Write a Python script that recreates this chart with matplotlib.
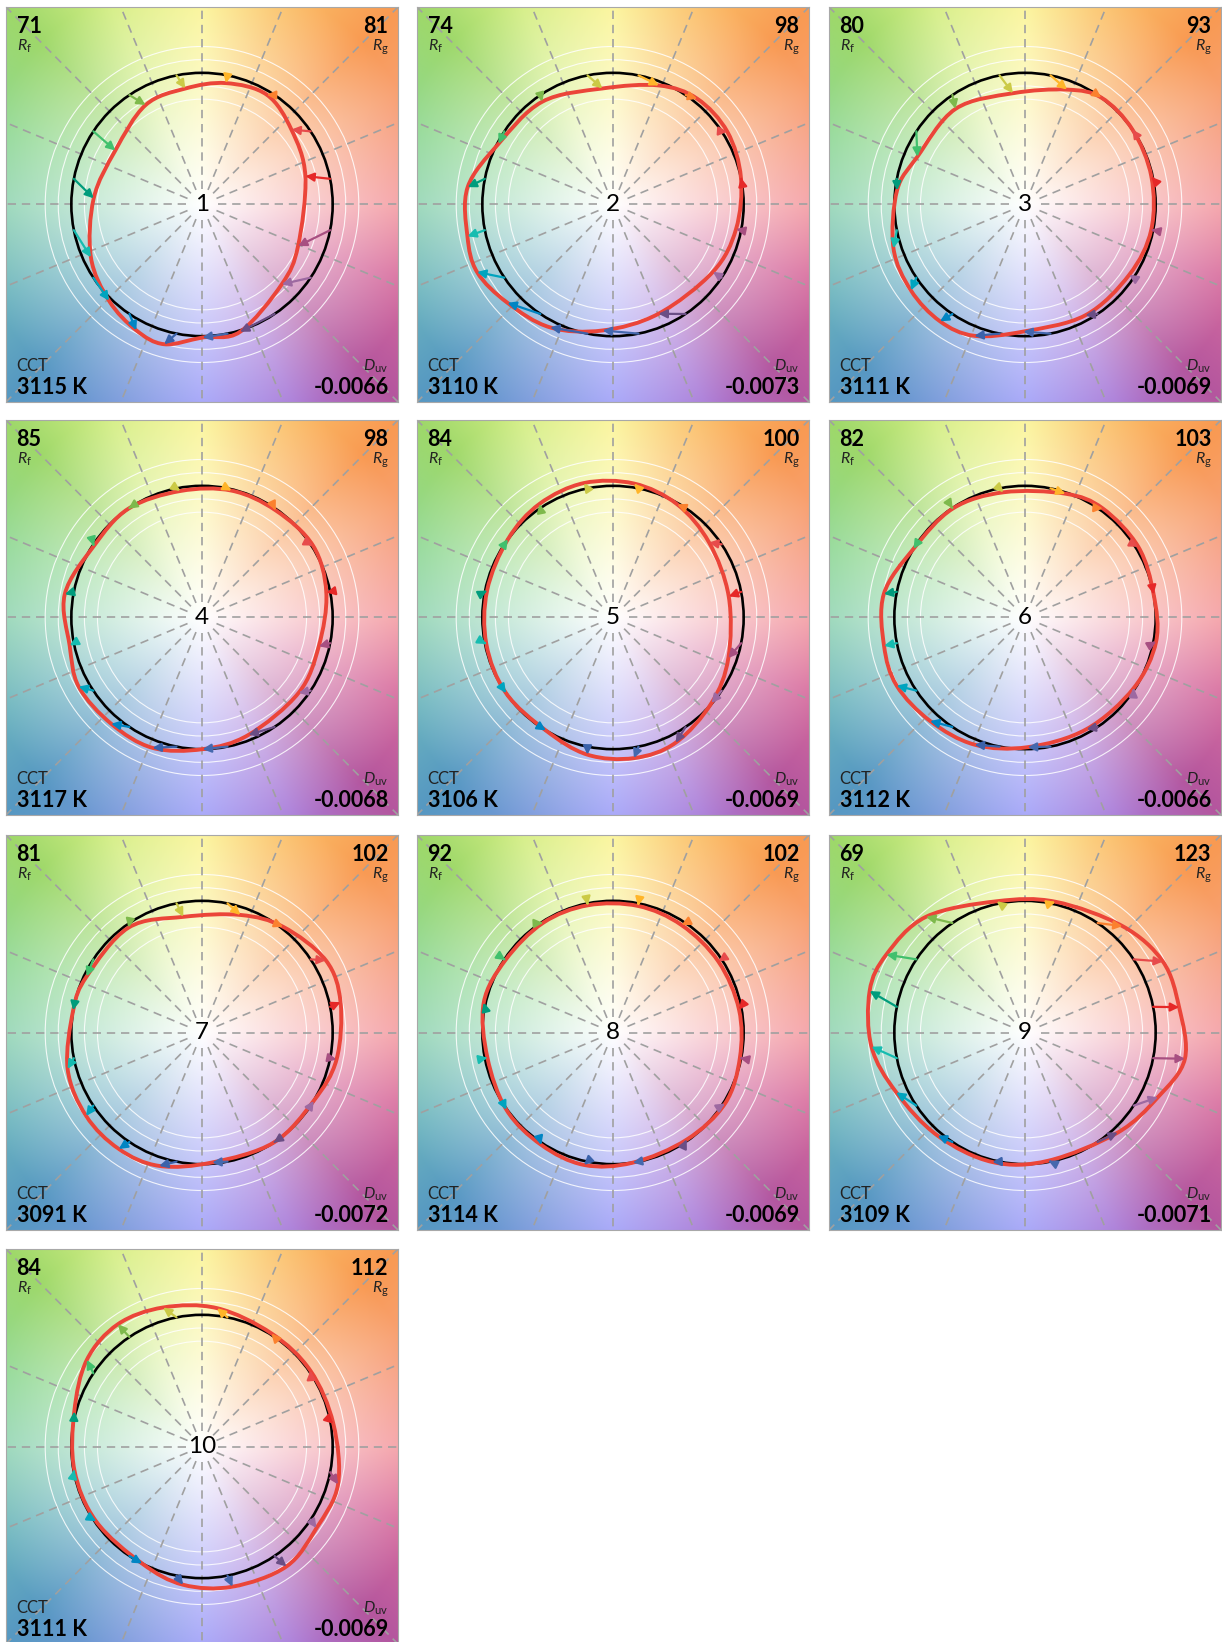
import numpy as np
import matplotlib
matplotlib.use('Agg')
import matplotlib.pyplot as plt
from matplotlib.path import Path
from matplotlib.patches import PathPatch, FancyArrowPatch, Circle
from matplotlib.colors import to_rgb

plt.rcParams['font.family'] = ['Lato', 'DejaVu Sans']
plt.rcParams['mathtext.fontset'] = 'custom'
plt.rcParams['mathtext.it'] = 'Lato:italic'
plt.rcParams['mathtext.rm'] = 'Lato'

# TM-30 summary numbers for the ten light sources
panel_ids = ['1', '2', '3', '4', '5', '6', '7', '8', '9', '10']
rf_values = [71, 74, 80, 85, 84, 82, 81, 92, 69, 84]
rg_values = [81, 98, 93, 98, 100, 103, 102, 102, 123, 112]
cct_values = [3115, 3110, 3111, 3117, 3106, 3112, 3091, 3114, 3109, 3111]
duv_values = ['-0.0066', '-0.0073', '-0.0069', '-0.0068', '-0.0069',
              '-0.0066', '-0.0072', '-0.0069', '-0.0071', '-0.0069']

# normalized test chroma (reference circle = 1) for hue bins 1..16
chroma_ratio = [
    [0.82, 0.89, 0.97, 0.94, 0.89, 0.87, 0.78, 0.83, 0.94, 1.02, 1.08, 1.10, 1.01, 1.01, 0.86, 0.80],
    [1.00, 1.035, 1.03, 0.97, 0.885, 0.95, 0.99, 1.12, 1.14, 1.16, 1.10, 1.05, 0.96, 0.90, 0.92, 0.96],
    [0.99, 1.00, 1.00, 0.93, 0.85, 0.90, 0.90, 0.985, 1.06, 1.09, 1.10, 1.07, 0.965, 0.96, 0.96, 0.985],
    [0.97, 1.01, 0.99, 0.99, 0.975, 1.00, 0.99, 1.065, 1.035, 1.08, 1.065, 1.06, 1.00, 0.96, 0.935, 0.92],
    [0.90, 0.93, 0.99, 1.03, 1.045, 1.03, 1.00, 0.985, 0.99, 1.00, 1.00, 1.06, 1.08, 1.065, 0.995, 0.935],
    [1.00, 1.02, 1.02, 0.99, 0.965, 0.995, 1.00, 1.095, 1.10, 1.11, 1.07, 1.04, 0.985, 0.97, 0.99, 1.02],
    [1.085, 1.095, 1.015, 0.94, 0.89, 0.975, 0.98, 1.00, 1.065, 1.09, 1.09, 1.065, 0.99, 1.00, 1.00, 1.05],
    [0.98, 0.97, 0.97, 0.98, 0.985, 0.99, 0.99, 1.015, 0.98, 1.005, 1.015, 1.03, 1.00, 0.99, 1.013, 0.99],
    [1.195, 1.185, 1.10, 1.02, 1.02, 1.16, 1.215, 1.23, 1.18, 1.085, 1.03, 1.015, 0.99, 1.04, 1.13, 1.24],
    [1.02, 1.01, 1.01, 1.057, 1.097, 1.13, 1.10, 1.013, 0.993, 0.99, 1.00, 1.06, 1.09, 1.117, 1.073, 1.08],
]
# hue shift of the test colour, degrees
hue_shift = [
    [4, 6, 3, 0, -3, -4, 2, 8, 14, 12, 6, -4, -11, -17, -11, -12],
    [0.5, -1.5, -5, -10, -6, 1, 6, 4.5, 1, -7.5, -13.5, -16, -16, -11, 0, 0],
    [1, 1, -2, -9, -5, 2.5, 10, 5, 7, 3, -2.5, -10, -12, -5, 0, 0],
    [0, -1, -1, -2, -1.5, 0.5, 0.5, 1.7, 0.6, -4.7, -7, -9.7, -11, -12, -4, -2.5],
    [-1, 4, 4, 2.3, 1, -0.7, -2.7, -0.7, 0.5, 1.2, 2.8, 0.6, -2.7, -7, -7, -8],
    [-1, -2, -2, -7, -1.5, 0, 2.3, 1.8, 0, -6, -9, -10.5, -10, -4.7, 1, 1],
    [1, -3.7, -4, -7, -2, 1.5, 8, 1.5, 3.8, 1.8, -2, -6.7, -6.7, -0.5, 2.5, 0],
    [-1, 0, 1, 0, 0, -1, 0, -1.7, 0, 2, 1, -1.2, -2.5, 1, 1.6, 0],
    [-2, -6.7, -9, -2, 1, 7, 4.6, -3.6, -6, -9, -6.7, -3, -0.8, 9.3, 8, 2],
    [-1.5, 1, 2, 5, 4.5, 1, -3, -4, -1, 1.2, 6.5, 3.4, 1.1, 1.6, -1.5, -4.2],
]

bin_colors = ['#e62828', '#e74b4b', '#fb812e', '#ffb529', '#cbca46', '#7eb94c',
              '#41c06d', '#009c7c', '#16bcb0', '#00a4bf', '#0085c3', '#3b62aa',
              '#4568ae', '#6a4e85', '#9d69a1', '#a74f81']

# background hue wheel
bg_angles = [0, 30, 45, 70, 90, 115, 135, 160, 180, 205, 225, 250, 270, 295, 315, 340, 360]
bg_colors = ['#f49aa0', '#f8a070', '#f99a52', '#fbc66c', '#fbf490', '#d4ee84',
             '#9ed86a', '#90d894', '#90d4b2', '#6cb4be', '#5698c2', '#7c98de',
             '#9c9cf8', '#aa7cd8', '#b4569e', '#d86e9e', '#f49aa0']


def make_background(n=300):
    g = np.linspace(-1.5, 1.5, n)
    X, Y = np.meshgrid(g, g)
    ang = np.degrees(np.arctan2(Y, X)) % 360
    rho = np.hypot(X, Y)
    rgb = np.array([to_rgb(c) for c in bg_colors])
    hue = np.stack([np.interp(ang, bg_angles, rgb[:, k]) for k in range(3)], axis=-1)
    s = np.clip(rho / 1.75, 0, 1)
    return 1 - s[..., None] * (1 - hue)


def smooth_closed(xs, ys):
    # closed catmull-rom curve written as cubic bezier segments
    P = np.column_stack([xs, ys])
    n = len(P)
    verts = [P[0]]
    codes = [Path.MOVETO]
    for i in range(n):
        p0, p1, p2, p3 = P[i - 1], P[i], P[(i + 1) % n], P[(i + 2) % n]
        verts += [p1 + (p2 - p0) / 6, p2 - (p3 - p1) / 6, p2]
        codes += [Path.CURVE4] * 3
    return Path(verts, codes)


def draw_panel(ax, idx, bg):
    ax.imshow(bg, origin='lower', extent=[-1.5, 1.5, -1.5, 1.5], aspect='auto',
              interpolation='bilinear', zorder=0)
    for r in [0.8, 0.9, 1.1, 1.2]:
        ax.add_patch(Circle((0, 0), r, fill=False, ec='white', lw=0.8, alpha=0.85, zorder=1))
    for k in range(16):
        a = np.radians(k * 22.5)
        ax.plot([0.12 * np.cos(a), 2.2 * np.cos(a)], [0.12 * np.sin(a), 2.2 * np.sin(a)],
                color='#a0a0a0', lw=1.2, ls=(0, (5, 3.5)), zorder=2)
    ax.add_patch(Circle((0, 0), 1.0, fill=False, ec='black', lw=1.9, zorder=3))

    centers = np.radians(np.arange(16) * 22.5 + 11.25)
    test_ang = centers + np.radians(hue_shift[idx])
    r = np.array(chroma_ratio[idx])
    tx, ty = r * np.cos(test_ang), r * np.sin(test_ang)
    ax.add_patch(PathPatch(smooth_closed(tx, ty), fill=False, ec='#eb4539', lw=2.8, zorder=4))
    for k in range(16):
        x0, y0 = np.cos(centers[k]), np.sin(centers[k])
        if np.hypot(tx[k] - x0, ty[k] - y0) < 1e-4:
            continue
        ax.add_patch(FancyArrowPatch((x0, y0), (tx[k], ty[k]),
                                     arrowstyle='-|>,head_length=0.5,head_width=0.25',
                                     mutation_scale=10, lw=1.6, color=bin_colors[k],
                                     shrinkA=0, shrinkB=0, zorder=5))

    ax.text(0, 0, panel_ids[idx], ha='center', va='center', fontsize=17.5, zorder=6)
    # top corners: fidelity and gamut index
    ax.text(0.027, 0.934, str(rf_values[idx]), transform=ax.transAxes, ha='left',
            va='baseline', fontsize=15.5, fontweight='bold', zorder=6)
    ax.text(0.027, 0.890, r'$\mathit{R}_\mathrm{f}$', transform=ax.transAxes, ha='left',
            va='baseline', fontsize=11.5, color='#222222', zorder=6)
    ax.text(0.976, 0.934, str(rg_values[idx]), transform=ax.transAxes, ha='right',
            va='baseline', fontsize=15.5, fontweight='bold', zorder=6)
    ax.text(0.976, 0.890, r'$\mathit{R}_\mathrm{g}$', transform=ax.transAxes, ha='right',
            va='baseline', fontsize=11.5, color='#222222', zorder=6)
    # bottom corners: CCT and Duv
    ax.text(0.027, 0.079, 'CCT', transform=ax.transAxes, ha='left', va='baseline',
            fontsize=12, color='#222222', zorder=6)
    ax.text(0.027, 0.020, '%d K' % cct_values[idx], transform=ax.transAxes, ha='left',
            va='baseline', fontsize=15.5, fontweight='bold', zorder=6)
    ax.text(0.976, 0.079, r'$\mathit{D}_\mathrm{uv}$', transform=ax.transAxes, ha='right',
            va='baseline', fontsize=11.5, color='#222222', zorder=6)
    ax.text(0.976, 0.020, duv_values[idx], transform=ax.transAxes, ha='right',
            va='baseline', fontsize=15.5, fontweight='bold', zorder=6)

    ax.set_xlim(-1.5, 1.5)
    ax.set_ylim(-1.5, 1.5)
    ax.set_xticks([])
    ax.set_yticks([])
    for sp in ax.spines.values():
        sp.set_color('#a8a8a8')
        sp.set_linewidth(0.8)


W, H = 1222, 1642
fig = plt.figure(figsize=(W / 100, H / 100), dpi=100)
col_x = [6, 417, 829]
row_y = [7, 420, 835, 1249]
pw, ph = 392, 395
bg = make_background()

for i in range(len(panel_ids)):
    x0 = col_x[i % 3]
    y0 = row_y[i // 3]
    ax = fig.add_axes([x0 / W, 1 - (y0 + ph) / H, pw / W, ph / H])
    draw_panel(ax, i, bg)

fig.savefig('out.png', dpi=100)
